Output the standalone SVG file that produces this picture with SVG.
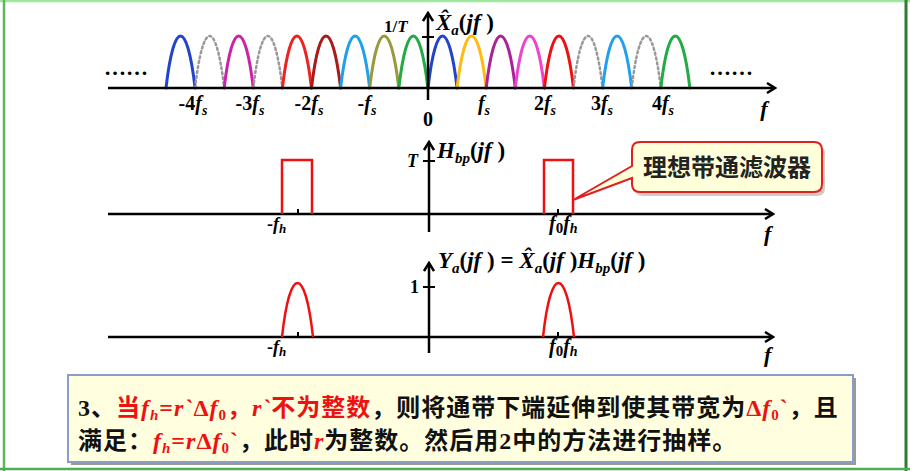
<svg xmlns="http://www.w3.org/2000/svg" width="910" height="471" viewBox="0 0 910 471">
<style>
.ax{stroke:#000;stroke-width:2.5;fill:none}
.tk{stroke:#000;stroke-width:2;fill:none}
.lobe{fill:none;stroke-width:3;stroke-linecap:round}
.dot{stroke:#999;stroke-dasharray:2 3;stroke-width:2.5}
.red{fill:none;stroke:#ee1111;stroke-width:2.5}
.m{font-family:"Liberation Serif",serif;font-weight:bold;fill:#000}
.i{font-style:italic}
.cn{font-family:"Liberation Serif","Noto Sans CJK SC",sans-serif;font-weight:bold}
.rd{fill:#ee1111}
</style>
<defs>
<marker id="arr" viewBox="0 0 12 12" refX="10" refY="6" markerWidth="12" markerHeight="12" orient="auto" markerUnits="userSpaceOnUse">
<path d="M2,1 L10,6 L2,11" fill="none" stroke="#000" stroke-width="2.5"/>
</marker>
<path id="lb" d="M0,0 C8,-69.3 21,-69.3 29.1,0"/>
<path id="hp" d="M0,0 C8,-72 23,-72 31,0"/>
</defs>
<rect x="0" y="0" width="910" height="471" fill="#fff"/>
<line x1="0" y1="1" x2="910" y2="1" stroke="#9ee89e" stroke-width="2.5"/>
<line x1="4" y1="0" x2="4" y2="471" stroke="#5cb85c" stroke-width="2.5"/>
<line x1="906" y1="0" x2="906" y2="471" stroke="#2f7d32" stroke-width="3"/>
<line x1="0" y1="469" x2="910" y2="469" stroke="#4caf50" stroke-width="2.5"/>

<g id="spectrum">
<g transform="translate(0,88)">
<use href="#lb" x="166" class="lobe" stroke="#2244cc"/>
<use href="#lb" x="195.1" class="lobe dot"/>
<use href="#lb" x="224.2" class="lobe" stroke="#cc22aa"/>
<use href="#lb" x="253.3" class="lobe dot"/>
<use href="#lb" x="282.4" class="lobe" stroke="#ee2222"/>
<use href="#lb" x="311.5" class="lobe" stroke="#aa1a1a"/>
<use href="#lb" x="340.6" class="lobe" stroke="#1fa0e8"/>
<use href="#lb" x="369.7" class="lobe" stroke="#9a9a3a"/>
<use href="#lb" x="398.8" class="lobe" stroke="#22aa44"/>
<use href="#lb" x="428" class="lobe" stroke="#2244cc"/>
<use href="#lb" x="457.1" class="lobe" stroke="#ffbb11"/>
<use href="#lb" x="486.2" class="lobe" stroke="#aa2299"/>
<use href="#lb" x="515.3" class="lobe" stroke="#ee44cc"/>
<use href="#lb" x="544.4" class="lobe" stroke="#ee1111"/>
<use href="#lb" x="573.5" class="lobe dot"/>
<use href="#lb" x="602.6" class="lobe" stroke="#22a0ee"/>
<use href="#lb" x="631.7" class="lobe dot"/>
<use href="#lb" x="660.8" class="lobe" stroke="#22aa44"/>
</g>
<line x1="108" y1="88" x2="775" y2="88" class="ax" marker-end="url(#arr)"/>
<line x1="428" y1="100" x2="428" y2="13" class="ax" marker-end="url(#arr)"/>
<line x1="422" y1="37" x2="434" y2="37" class="tk"/>
<text x="384" y="32" class="m" font-size="17">1/<tspan class="i">T</tspan></text>
<text x="436" y="30" class="m" font-size="23"><tspan class="i">X̂</tspan><tspan class="i" font-size="15" dy="5">a</tspan><tspan dy="-5">(</tspan><tspan class="i">jf </tspan>)</text>
<text x="104" y="75" class="m" font-size="22">……</text>
<text x="709" y="75" class="m" font-size="22">……</text>
<g class="m" font-size="20" text-anchor="middle">
<text x="193" y="110">-4<tspan class="i">f</tspan><tspan class="i" font-size="14" dy="5">s</tspan></text>
<text x="250" y="110">-3<tspan class="i">f</tspan><tspan class="i" font-size="14" dy="5">s</tspan></text>
<text x="309" y="110">-2<tspan class="i">f</tspan><tspan class="i" font-size="14" dy="5">s</tspan></text>
<text x="367" y="110">-<tspan class="i">f</tspan><tspan class="i" font-size="14" dy="5">s</tspan></text>
<text x="428" y="126">0</text>
<text x="484" y="110"><tspan class="i">f</tspan><tspan class="i" font-size="14" dy="5">s</tspan></text>
<text x="545" y="110">2<tspan class="i">f</tspan><tspan class="i" font-size="14" dy="5">s</tspan></text>
<text x="602" y="110">3<tspan class="i">f</tspan><tspan class="i" font-size="14" dy="5">s</tspan></text>
<text x="663" y="110">4<tspan class="i">f</tspan><tspan class="i" font-size="14" dy="5">s</tspan></text>
<text x="764" y="116" class="i" font-size="22">f</text>
</g>
</g>

<g id="filter">
<line x1="108" y1="214" x2="773" y2="214" class="ax" marker-end="url(#arr)"/>
<line x1="429" y1="232" x2="429" y2="142" class="ax" marker-end="url(#arr)"/>
<line x1="423" y1="161" x2="435" y2="161" class="tk"/>
<path d="M282,214 V160 H312 V214" class="red"/>
<path d="M544,214 V160 H573 V214" class="red"/>
<line x1="298" y1="209" x2="298" y2="214" class="tk"/>
<line x1="558" y1="209" x2="558" y2="214" class="tk"/>
<text x="407" y="167" class="m i" font-size="18">T</text>
<text x="437" y="158" class="m" font-size="23"><tspan class="i">H</tspan><tspan class="i" font-size="15" dy="5">bp</tspan><tspan dy="-5">(</tspan><tspan class="i">jf </tspan>)</text>
<text x="267" y="230" class="m" font-size="18">-<tspan class="i">f</tspan><tspan class="i" font-size="13" dy="3">h</tspan></text>
<text x="549" y="230" class="m" font-size="20"><tspan class="i">f</tspan><tspan font-size="15" dy="3">0</tspan><tspan class="i" dy="-3">f</tspan><tspan class="i" font-size="14" dy="3">h</tspan></text>
<text x="764" y="241" class="m i" font-size="22">f</text>
</g>

<g id="callout">
<path d="M643,146 H817 Q825,146 825,154 V188 Q825,196 817,196 H643 Q635,196 635,188 V154 Q635,146 643,146 Z" fill="#b0a8a0" opacity="0.6"/>
<path d="M640,142 H814 Q822,142 822,150 V184 Q822,192 814,192 H640 Q632,192 632,184 V178 L573,200 L632,166 V150 Q632,142 640,142 Z" fill="#ffffd9" stroke="#e02020" stroke-width="2"/>
<text x="727" y="176" class="cn" font-size="24" text-anchor="middle" fill="#222">理想带通滤波器</text>
</g>

<g id="output">
<line x1="108" y1="337" x2="773" y2="337" class="ax" marker-end="url(#arr)"/>
<line x1="429" y1="353" x2="429" y2="263" class="ax" marker-end="url(#arr)"/>
<line x1="423" y1="287" x2="435" y2="287" class="tk"/>
<use href="#hp" x="282" y="337" class="red"/>
<use href="#hp" x="543" y="337" class="red"/>
<line x1="298" y1="332" x2="298" y2="337" class="tk"/>
<line x1="558" y1="332" x2="558" y2="337" class="tk"/>
<text x="410" y="293" class="m" font-size="18">1</text>
<text x="438" y="268" class="m" font-size="23"><tspan class="i">Y</tspan><tspan class="i" font-size="15" dy="5">a</tspan><tspan dy="-5">(</tspan><tspan class="i">jf </tspan>) = <tspan class="i">X̂</tspan><tspan class="i" font-size="15" dy="5">a</tspan><tspan dy="-5">(</tspan><tspan class="i">jf </tspan>)<tspan class="i">H</tspan><tspan class="i" font-size="15" dy="5">bp</tspan><tspan dy="-5">(</tspan><tspan class="i">jf </tspan>)</text>
<text x="267" y="353" class="m" font-size="18">-<tspan class="i">f</tspan><tspan class="i" font-size="13" dy="3">h</tspan></text>
<text x="549" y="353" class="m" font-size="20"><tspan class="i">f</tspan><tspan font-size="15" dy="3">0</tspan><tspan class="i" dy="-3">f</tspan><tspan class="i" font-size="14" dy="3">h</tspan></text>
<text x="764" y="362" class="m i" font-size="22">f</text>
</g>

<g id="note">
<rect x="71" y="378" width="785" height="87" fill="#9a9a9a"/>
<rect x="68" y="375" width="785" height="87" fill="#ffffe0" stroke="#8c9cc8" stroke-width="2"/>
<text x="78" y="416" class="cn" font-size="24" letter-spacing="1" fill="#111">3、<tspan class="rd">当<tspan class="i">f</tspan><tspan class="i" font-size="15" dy="4">h</tspan><tspan dy="-4">=</tspan><tspan class="i">r`</tspan>Δ<tspan class="i">f</tspan><tspan font-size="15" dy="4">0</tspan><tspan dy="-4">，</tspan><tspan class="i">r`</tspan>不为整数</tspan>，则将通带下端延伸到使其带宽为<tspan class="rd">Δ<tspan class="i">f</tspan><tspan font-size="15" dy="4">0</tspan><tspan dy="-4">`</tspan></tspan>，且</text>
<text x="78" y="449" class="cn" font-size="24" letter-spacing="1" fill="#111">满足：<tspan class="rd"><tspan class="i">f</tspan><tspan class="i" font-size="15" dy="4">h</tspan><tspan dy="-4">=</tspan><tspan class="i">r</tspan>Δ<tspan class="i">f</tspan><tspan font-size="15" dy="4">0</tspan><tspan dy="-4">`</tspan></tspan>，此时<tspan class="rd i">r</tspan>为整数。然后用2中的方法进行抽样。</text>
</g>
</svg>
